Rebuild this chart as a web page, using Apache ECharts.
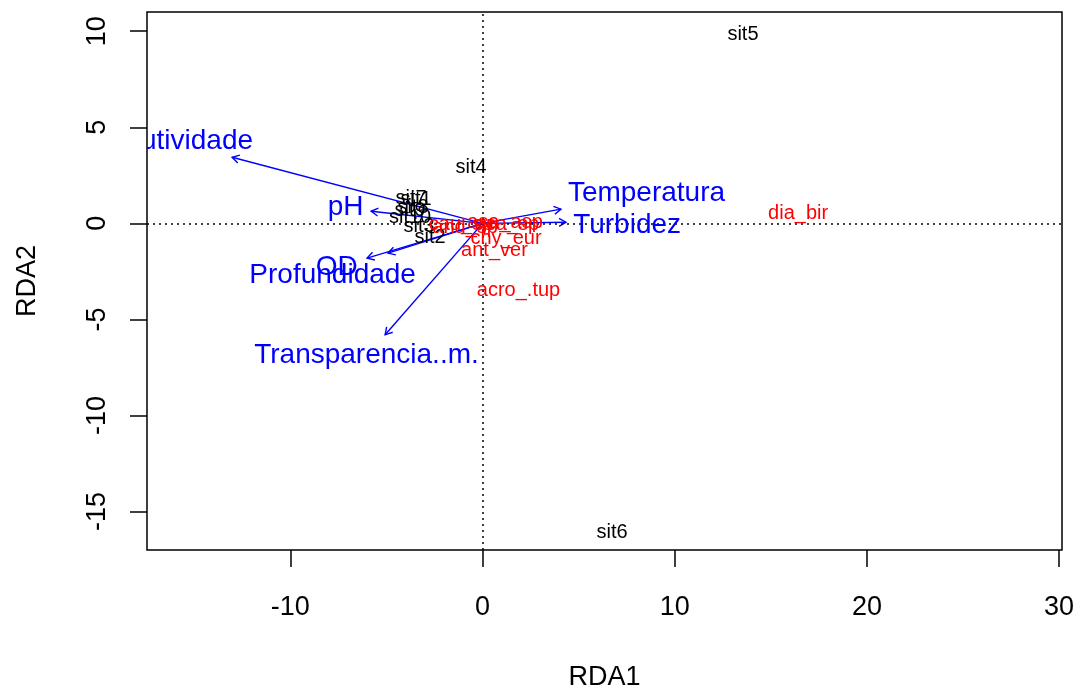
<!DOCTYPE html>
<html>
<head>
<meta charset="utf-8">
<script src="https://cdn.jsdelivr.net/npm/echarts@6/dist/echarts.min.js"></script>
<style>
  html, body { margin: 0; padding: 0; background: #fff; }
  #chart { width: 1077px; height: 691px; }
</style>
</head>
<body>
<div id="chart"></div>
<script>
// RDA biplot: site scores, species scores and environmental arrows
const xTicks = [-10, 0, 10, 20, 30];
const yTicks = [-15, -10, -5, 0, 5, 10];

const siteNames = ['sit1', 'sit7', 'sit8', 'sit9', 'sit10', 'sit3', 'sit2', 'sit4', 'sit5', 'sit6'];
const siteX = [-3.46, -3.72, -3.62, -3.77, -3.77, -3.30, -2.73, -0.60, 13.55, 6.74];
const siteY = [1.26, 1.31, 0.84, 0.69, 0.32, -0.15, -0.72, 2.92, 9.84, -16.07];

const speciesNames = ['dia_bir', 'acro_.tup', 'ant_ver', 'chy_eur', 'cau_sp', 'and_sp', 'asa_asp', 'aca_sp'];
const speciesX = [16.42, 1.87, 0.62, 1.22, -1.12, -0.91, 1.17, 1.27];
const speciesY = [0.53, -3.48, -1.39, -0.77, -0.05, -0.20, 0.06, -0.05];

const envNames = ['Condutividade', 'pH', 'OD', 'Profundidade', 'Transparencia..m.', 'Temperatura', 'Turbidez'];
const envX = [-13.03, -5.80, -6.01, -4.92, -5.07, 4.08, 4.34];
const envY = [3.44, 0.63, -1.81, -1.55, -5.80, 0.74, 0.06];
const envLabelX = [-16.60, -7.13, -7.59, -7.80, -6.04, 8.53, 7.52];
const envLabelY = [4.28, 0.84, -2.26, -2.70, -6.86, 1.57, -0.09];

const FONT = '"Liberation Sans", Arial, sans-serif';

function textSeries(names, xs, ys, color, size) {
  return {
    type: 'custom',
    clip: true,
    z: 5,
    data: xs.map((x, i) => [x, ys[i]]),
    renderItem: function (params, api) {
      const p = api.coord([api.value(0), api.value(1)]);
      return {
        type: 'text',
        x: p[0], y: p[1],
        style: {
          text: names[params.dataIndex],
          fill: color,
          font: size + 'px ' + FONT,
          align: 'center',
          verticalAlign: 'middle'
        }
      };
    }
  };
}

const arrowSeries = {
  type: 'custom',
  clip: true,
  z: 4,
  data: envX.map((x, i) => [x, envY[i]]),
  renderItem: function (params, api) {
    const o = api.coord([0, 0]);
    const t = api.coord([api.value(0), api.value(1)]);
    const ang = Math.atan2(t[1] - o[1], t[0] - o[0]);
    const len = 8, spread = Math.PI / 6;
    const h1 = [t[0] - len * Math.cos(ang - spread), t[1] - len * Math.sin(ang - spread)];
    const h2 = [t[0] - len * Math.cos(ang + spread), t[1] - len * Math.sin(ang + spread)];
    const st = { stroke: '#0000ff', lineWidth: 1.4, fill: null };
    return {
      type: 'group',
      children: [
        { type: 'line', shape: { x1: o[0], y1: o[1], x2: t[0], y2: t[1] }, style: st },
        { type: 'polyline', shape: { points: [h1, t, h2] }, style: st }
      ]
    };
  }
};

const chart = echarts.init(document.getElementById('chart'), null, { renderer: 'canvas' });
chart.setOption({
  animation: false,
  backgroundColor: '#ffffff',
  grid: {
    left: 147, right: 15, top: 12, bottom: 141,
    containLabel: false,
    outerBoundsMode: 'none',
    show: true, borderColor: '#000', borderWidth: 1.5, backgroundColor: 'transparent'
  },
  xAxis: {
    type: 'value',
    min: -17.46, max: 30.15,
    axisLine: { show: false, onZero: false },
    splitLine: { show: false },
    axisTick: { show: true, customValues: xTicks, length: 17, inside: false, lineStyle: { color: '#000', width: 1.5 } },
    axisLabel: { customValues: xTicks, fontSize: 27, fontFamily: FONT, color: '#000', margin: 44 },
    name: 'RDA1',
    nameLocation: 'middle',
    nameGap: 114,
    nameTextStyle: { fontSize: 27, fontFamily: FONT, color: '#000' }
  },
  yAxis: {
    type: 'value',
    min: -17.0, max: 11.0,
    axisLine: { show: false, onZero: false },
    splitLine: { show: false },
    axisTick: { show: true, customValues: yTicks, length: 17, inside: false, lineStyle: { color: '#000', width: 1.5 } },
    axisLabel: { customValues: yTicks, fontSize: 27, fontFamily: FONT, color: '#000', margin: 36, rotate: 90 },
    name: 'RDA2',
    nameLocation: 'middle',
    nameGap: 106,
    nameRotate: 90,
    nameTextStyle: { fontSize: 27, fontFamily: FONT, color: '#000' }
  },
  series: [
    {
      type: 'line',
      data: [],
      markLine: {
        silent: true,
        symbol: 'none',
        label: { show: false },
        lineStyle: { color: '#000', width: 1.5, type: [2, 4] },
        data: [{ xAxis: 0 }, { yAxis: 0 }]
      }
    },
    arrowSeries,
    textSeries(siteNames, siteX, siteY, '#000000', 20),
    textSeries(speciesNames, speciesX, speciesY, '#ff0000', 20),
    textSeries(envNames, envLabelX, envLabelY, '#0000ff', 28)
  ]
});
</script>
</body>
</html>
